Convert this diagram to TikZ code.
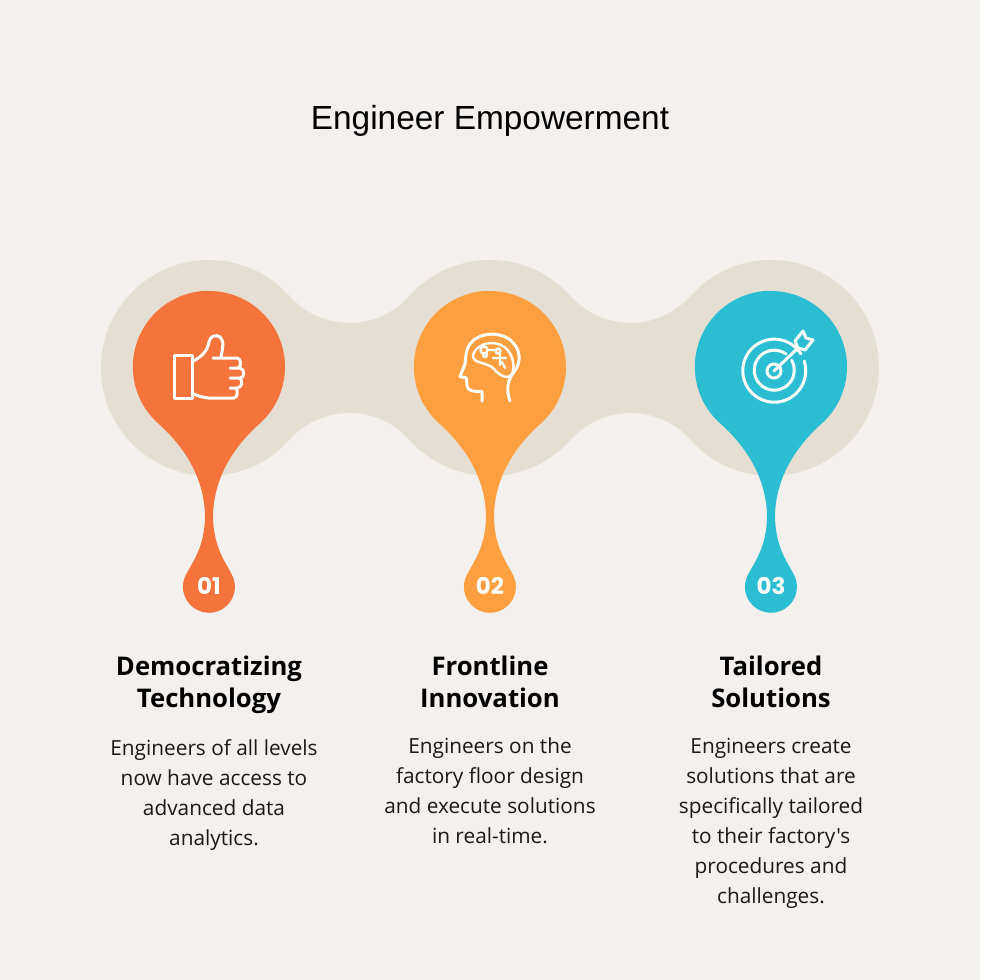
\documentclass[tikz,border=0pt]{standalone}
\usepackage{fontspec}
\newfontfamily\bodyfont{Open Sans}
\newfontfamily\titlefont{Liberation Sans}
\newfontfamily\numfont{Poppins}
\definecolor{paper}{HTML}{F3F0ED}
\definecolor{band}{HTML}{E5DFD3}
\definecolor{orangeA}{HTML}{F4743B}
\definecolor{orangeB}{HTML}{FF9F40}
\definecolor{tealA}{HTML}{2BBED3}
\tikzset{
  title/.style={font=\titlefont\fontsize{33.4}{40}\selectfont, text=black},
  heading/.style={font=\bodyfont\bfseries\fontsize{25.7}{32}\selectfont, align=center, text=black},
  body/.style={font=\bodyfont\fontsize{20.8}{29.9}\selectfont, align=center, text=black!90},
  numlabel/.style={font=\numfont\bfseries\fontsize{23}{26}\selectfont, text=white},
  icon/.style={draw=white, line width=3pt, line cap=round, line join=round},
  thin icon/.style={draw=white, line width=2.4pt, line cap=round, line join=round}
}
\newcommand{\dropat}[2]{%
  \fill[#2, shift={(#1,0)}] (0,-291) arc (90:-50:76)
    .. controls (24,-448) and (5,-478) .. (4,-515)
    .. controls (4,-545) and (15,-560) .. (22,-573)
    arc (32:-212:26)
    .. controls (-15,-560) and (-4,-545) .. (-4,-515)
    .. controls (-5,-478) and (-24,-448) .. (-49,-425)
    arc (230:90:76) -- cycle;
}
\begin{document}
\begin{tikzpicture}[x=1pt,y=1pt]
\fill[paper] (0,0) rectangle (980,-980);
\useasboundingbox (0,0) rectangle (980,-980);
% band behind the drops
\fill[band] (289.6,-296.1) arc (41.7:318.3:108)
  arc (138.3:41.7:80.2) arc (221.7:318.3:108)
  arc (138.3:41.7:80.2) arc (221.7:498.3:108)
  arc (-41.7:-138.3:80.2) arc (41.7:138.3:108)
  arc (-41.7:-138.3:80.2) -- cycle;
\dropat{209}{orangeA}
\dropat{490}{orangeB}
\dropat{771}{tealA}
\node[title] (title) at (490,-120.5) {Engineer Empowerment};
\node[numlabel] (num1) at (209,-586) {01};
\node[numlabel] (num2) at (490,-586) {02};
\node[numlabel] (num3) at (771,-586) {03};
\node[heading] (head1) at (209,-684.5) {Democratizing\\Technology};
\node[heading] (head2) at (490,-682) {Frontline\\Innovation};
\node[heading] (head3) at (771,-682) {Tailored\\Solutions};
\node[body, anchor=north] (text1) at (214,-736) {Engineers of all levels\\now have access to\\advanced data\\analytics.};
\node[body, anchor=north] (text2) at (490,-734) {Engineers on the\\factory floor design\\and execute solutions\\in real-time.};
\node[body, anchor=north] (text3) at (771,-735) {Engineers create\\solutions that are\\specifically tailored\\to their factory's\\procedures and\\challenges.};
% thumb
\draw[icon] (174,-355) rectangle (192,-398);
\draw[icon] (192,-362) .. controls (202,-356) and (207,-352) .. (209,-342)
  .. controls (210,-336) and (216,-334) .. (220,-337)
  .. controls (225,-341) and (222,-350) .. (221,-358) -- (213,-358) -- (237,-358)
  .. controls (241,-358) and (242,-366) .. (238,-368) -- (230,-368) -- (240,-368)
  .. controls (245,-369) and (245,-378) .. (240,-378) -- (230,-378) -- (239,-378)
  .. controls (243,-379) and (243,-388) .. (237,-388) -- (230,-388) -- (236,-388)
  .. controls (238,-391) and (238,-397) .. (234,-398) -- (208,-398)
  .. controls (202,-397) and (197,-396) .. (192,-393);
% head
\draw[icon] (510,-401) .. controls (505,-388) and (509,-378) .. (514,-372)
  .. controls (522,-362) and (521,-348) .. (509,-339)
  .. controls (497,-331) and (478,-333) .. (470,-344)
  .. controls (465,-351) and (466,-358) .. (465,-364) -- (460,-376.5) -- (466.5,-378)
  -- (467,-386) .. controls (468,-391) and (473,-391.5) .. (482,-391.5) -- (482,-401);
\draw[thin icon] (473,-355) .. controls (476,-345) and (490,-340) .. (501,-345)
  .. controls (512,-350) and (516,-365) .. (512,-374)
  .. controls (508,-380) and (500,-376) .. (494,-369)
  .. controls (488,-362) and (472,-364) .. (473,-355) -- cycle;
\draw[thin icon] (484,-350) circle (3.5) (485,-355) circle (2) (488,-350) -- (497,-350) (498,-351) circle (2.5)
  (500,-353) -- (500,-365) (493,-358) -- (506,-358) (502,-362) -- (505,-368);
% target
\draw[icon] (801,-354) arc (32:378:31.5);
\draw[icon] (786,-354) arc (54:390:20);
\draw[icon] (774,-371) circle (7);
\draw[icon] (774,-371) -- (798,-348);
\draw[icon] (798,-348) -- (795,-341) -- (803,-331) -- (806,-338) -- (813,-340) -- (805,-350) -- cycle;
\end{tikzpicture}
\end{document}
